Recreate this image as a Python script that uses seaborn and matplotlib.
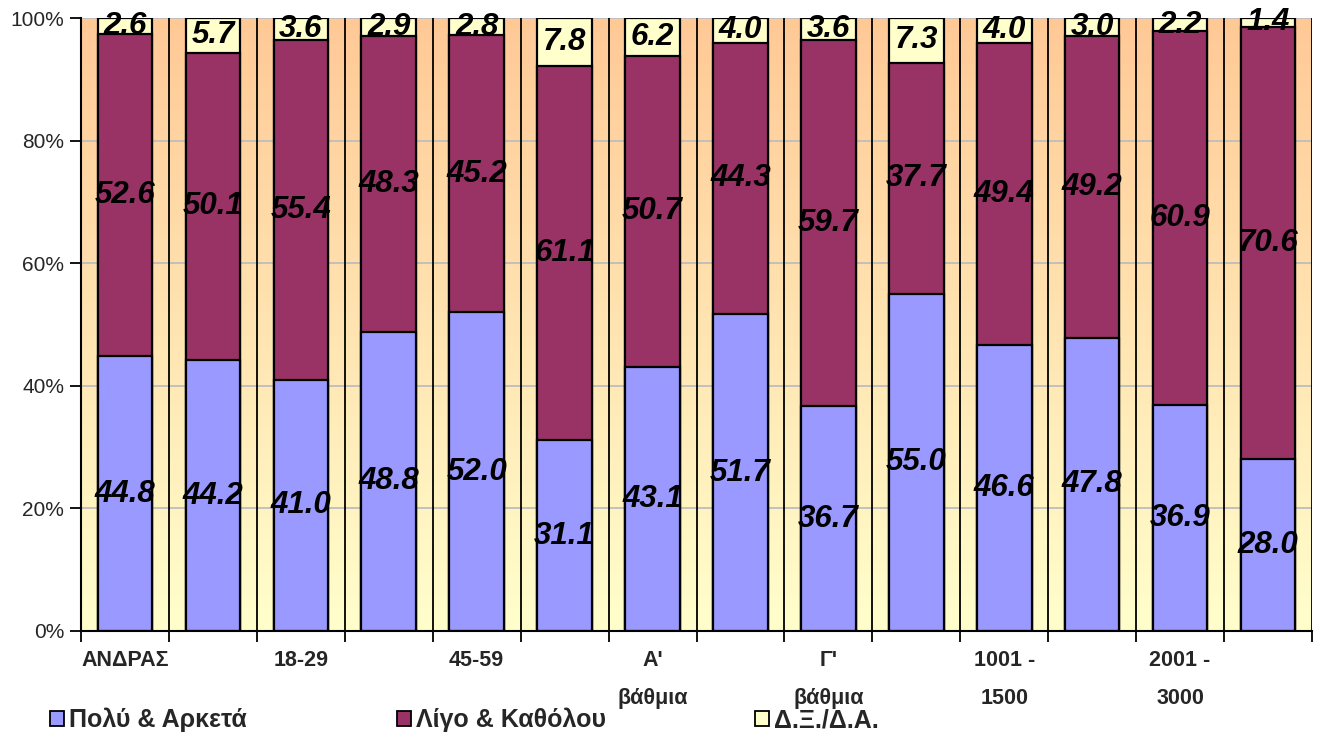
import numpy as np
import matplotlib
matplotlib.use("Agg")
import matplotlib.pyplot as plt
from matplotlib.colors import LinearSegmentedColormap
from matplotlib.patches import Patch
import seaborn as sns

# Survey answers per group (percent of respondents)
much = [44.8, 44.2, 41.0, 48.8, 52.0, 31.1, 43.1, 51.7, 36.7, 55.0, 46.6, 47.8, 36.9, 28.0]
little = [52.6, 50.1, 55.4, 48.3, 45.2, 61.1, 50.7, 44.3, 59.7, 37.7, 49.4, 49.2, 60.9, 70.6]
dont_know = [2.6, 5.7, 3.6, 2.9, 2.8, 7.8, 6.2, 4.0, 3.6, 7.3, 4.0, 3.0, 2.2, 1.4]

series_names = ["Πολύ & Αρκετά", "Λίγο & Καθόλου", "Δ.Ξ./Δ.Α."]
series_colors = ["#9999FF", "#993366", "#FFFFCC"]

# Only every other group carries a visible label on the axis
tick_labels = ["ΑΝΔΡΑΣ", "18-29", "45-59", "Α'\nβάθμια", "Γ'\nβάθμια",
               "1001 -\n1500", "2001 -\n3000"]

sns.set_style("white")
plt.rcParams["font.family"] = ["Liberation Sans", "DejaVu Sans"]

n = len(much)
pos = np.arange(n)
much_a = np.array(much)
little_a = np.array(little)
dk_a = np.array(dont_know)

fig = plt.figure(figsize=(13.18, 7.42), dpi=100)
W, H = 1318, 742
ax = fig.add_axes([81 / W, 1 - 631 / H, (1312 - 81) / W, (631 - 18) / H])

# Peach-to-cream vertical gradient behind the plot
grad = LinearSegmentedColormap.from_list("peach", ["#FFFFCC", "#FFC996"])
ax.imshow(np.linspace(0, 1, 256).reshape(-1, 1), cmap=grad, origin="lower",
          extent=[-0.5, n - 0.5, 0, 100], aspect="auto", zorder=0)

for yv in [20, 40, 60, 80, 100]:
    ax.axhline(yv, color="#BDBDBD", lw=1.3, zorder=0.5)
for k in range(n + 1):
    ax.axvline(k - 0.5, color="black", lw=1.3, zorder=0.6)

# Stacked bars: draw cumulative totals from the top down
bar_kw = dict(width=0.62, edgecolor="black", linewidth=1.6, saturation=1,
              errorbar=None, ax=ax, zorder=2)
sns.barplot(x=pos, y=much_a + little_a + dk_a, color=series_colors[2], **bar_kw)
sns.barplot(x=pos, y=much_a + little_a, color=series_colors[1], **bar_kw)
sns.barplot(x=pos, y=much_a, color=series_colors[0], **bar_kw)

lab_kw = dict(ha="center", va="center", fontsize=22.5, fontweight="bold",
              fontstyle="italic", color="black", zorder=5)
for i in range(n):
    ax.text(i, much_a[i] / 2, f"{much_a[i]:.1f}", **lab_kw)
    ax.text(i, much_a[i] + little_a[i] / 2, f"{little_a[i]:.1f}", **lab_kw)
    ax.text(i, much_a[i] + little_a[i] + dk_a[i] / 2, f"{dk_a[i]:.1f}", **lab_kw)

ax.set_xlim(-0.5, n - 0.5)
ax.set_ylim(0, 100)
ax.set_yticks([0, 20, 40, 60, 80, 100])
ax.set_yticklabels([f"{v}%" for v in range(0, 101, 20)], fontsize=15)
ax.tick_params(axis="y", direction="out", length=8, width=1.3, color="black", pad=4, left=True)

ax.set_xticks(np.arange(n + 1) - 0.5)
ax.set_xticklabels([])
ax.tick_params(axis="x", which="major", direction="out", length=8, width=1.3,
               color="black", bottom=True)
ax.set_xticks(pos[::2], minor=True)
ax.set_xticklabels(tick_labels, minor=True, fontsize=15.5, fontweight="bold",
                   linespacing=2.05, va="top")
ax.tick_params(axis="x", which="minor", length=0, pad=14)
ax.set_xlabel("")
ax.set_ylabel("")

for side in ["top", "right"]:
    ax.spines[side].set_visible(False)
for side in ["left", "bottom"]:
    ax.spines[side].set_color("black")
    ax.spines[side].set_linewidth(1.5)
    ax.spines[side].set_zorder(3)

# Legend entries spread along the bottom edge
leg_x = [50, 397, 755]
for name, col, xl in zip(series_names, series_colors, leg_x):
    fig.legend(handles=[Patch(facecolor=col, edgecolor="black", linewidth=1.3)],
               labels=[name], loc="center left",
               bbox_to_anchor=(xl / W, 1 - 720 / H), frameon=False,
               borderpad=0, borderaxespad=0, handlelength=0.55, handleheight=0.55,
               handletextpad=0.2, prop={"weight": "bold", "size": 18})

fig.savefig("out.png", dpi=100)
